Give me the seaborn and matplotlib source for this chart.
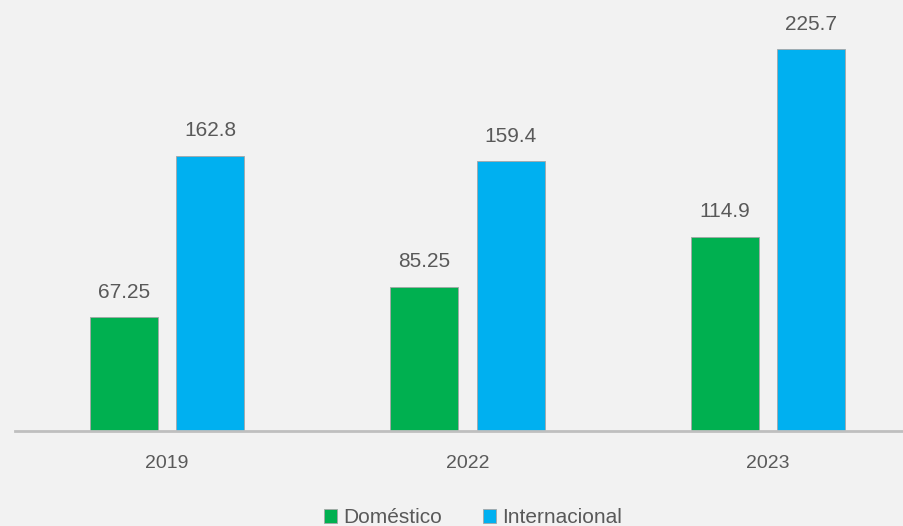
import pandas as pd
import matplotlib.pyplot as plt
import seaborn as sns

# Values
years = ['2019', '2022', '2023']
domestico = [67.25, 85.25, 114.9]
internacional = [162.8, 159.4, 225.7]
domestico_labels = ['67.25', '85.25', '114.9']
internacional_labels = ['162.8', '159.4', '225.7']

df = pd.DataFrame({
    'Año': years * 2,
    'Valor': domestico + internacional,
    'Tipo': ['Doméstico'] * 3 + ['Internacional'] * 3,
})

sns.set_style('white')
plt.rcParams['font.family'] = ['Liberation Sans', 'DejaVu Sans']

bg = '#F2F2F2'
fig = plt.figure(figsize=(9.04, 5.26), dpi=100, facecolor=bg)
ax = fig.add_axes([15 / 904, 95 / 526, 889 / 904, 431 / 526])
ax.set_facecolor(bg)

sns.barplot(data=df, x='Año', y='Valor', hue='Tipo',
            palette=['#00B050', '#00B0F0'], saturation=1,
            width=0.576, gap=0.215,
            edgecolor='#A6A6A6', linewidth=0.6, ax=ax)

for cont, labs in zip(ax.containers, [domestico_labels, internacional_labels]):
    ax.bar_label(cont, labels=labs, padding=11, fontsize=15, color='#595959')

ax.set_xlim(-0.506, 2.452)
ax.set_ylim(0, 254.7)
ax.set_xlabel('')
ax.set_ylabel('')
ax.set_yticks([])
ax.tick_params(axis='x', length=0, pad=17, labelsize=14, labelcolor='#595959')
for s in ['top', 'right', 'left']:
    ax.spines[s].set_visible(False)
ax.spines['bottom'].set_color('#BFBFBF')
ax.spines['bottom'].set_linewidth(2)

leg = ax.legend(loc='lower center', bbox_to_anchor=(473 / 904, -0.022),
                bbox_transform=fig.transFigure, ncol=2, frameon=False,
                fontsize=15, handlelength=0.6, handleheight=0.7,
                handletextpad=0.3, columnspacing=2.0, borderpad=0)
for t in leg.get_texts():
    t.set_color('#595959')

fig.savefig('out.png', dpi=100, facecolor=bg)
